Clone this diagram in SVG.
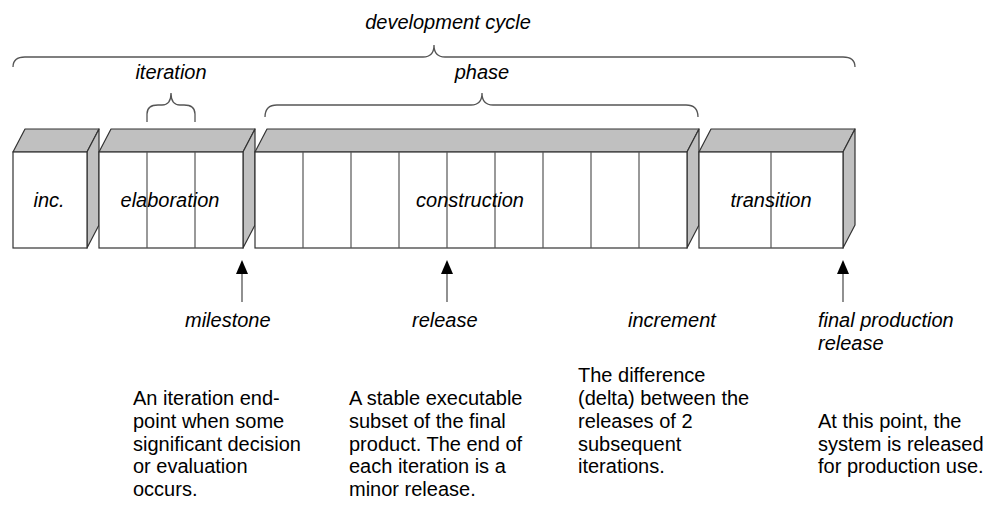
<svg xmlns="http://www.w3.org/2000/svg" width="1003" height="511" viewBox="0 0 1003 511">
<style>
text{font-family:"Liberation Sans",Arial,sans-serif;font-size:20px;fill:#000}
.it{font-style:italic}
.c{text-anchor:middle}
.front{fill:#fff;stroke:#333;stroke-width:1.2}
.shade{fill:#c0c0c0;stroke:#333;stroke-width:1.2;stroke-linejoin:round}
.div{stroke:#555;stroke-width:1.2}
.brace{fill:none;stroke:#555;stroke-width:1.3}
.arr{stroke:#555;stroke-width:1.3}
</style>
<defs>
<marker id="ah" markerWidth="12" markerHeight="14" refX="6" refY="13" orient="0" markerUnits="userSpaceOnUse" overflow="visible">
<path d="M0,14 L6,0 L12,14 Z" fill="#000"/>
</marker>
</defs>
<g id="braces">
<path class="brace" d="M13,67 Q13,57 25,57 L423,57 Q434,57 434,45 Q434,57 445,57 L843,57 Q855,57 855,67"/>
<text class="it c" x="448" y="29">development cycle</text>
<path class="brace" d="M147,122 L147,114 Q147,105 158,105 L162,105 Q171,105 171,93 Q171,105 180,105 L184,105 Q195,105 195,114 L195,122"/>
<text class="it c" x="171" y="79">iteration</text>
<path class="brace" d="M265,117 Q265,105 277,105 L471,105 Q482,105 482,93 Q482,105 493,105 L686,105 Q698,105 698,117"/>
<text class="it c" x="482" y="79">phase</text>
</g>
<g id="inc">
<path class="shade" d="M13,152 L25,129 L99,129 L87,152 Z"/>
<path class="shade" d="M87,152 L99,129 L99,225 L87,248 Z"/>
<rect class="front" x="13" y="152" width="74" height="96"/>
<text class="it c" x="49" y="207">inc.</text>
</g>
<g id="elaboration">
<path class="shade" d="M99,152 L111,129 L255,129 L243,152 Z"/>
<path class="shade" d="M243,152 L255,129 L255,225 L243,248 Z"/>
<rect class="front" x="99" y="152" width="144" height="96"/>
<line class="div" x1="147" y1="152" x2="147" y2="248"/>
<line class="div" x1="195" y1="152" x2="195" y2="248"/>
<text class="it c" x="170" y="207">elaboration</text>
</g>
<g id="construction">
<path class="shade" d="M255,152 L267,129 L699,129 L687,152 Z"/>
<path class="shade" d="M687,152 L699,129 L699,225 L687,248 Z"/>
<rect class="front" x="255" y="152" width="432" height="96"/>
<line class="div" x1="303" y1="152" x2="303" y2="248"/>
<line class="div" x1="351" y1="152" x2="351" y2="248"/>
<line class="div" x1="399" y1="152" x2="399" y2="248"/>
<line class="div" x1="447" y1="152" x2="447" y2="248"/>
<line class="div" x1="495" y1="152" x2="495" y2="248"/>
<line class="div" x1="543" y1="152" x2="543" y2="248"/>
<line class="div" x1="591" y1="152" x2="591" y2="248"/>
<line class="div" x1="639" y1="152" x2="639" y2="248"/>
<text class="it c" x="470" y="207">construction</text>
</g>
<g id="transition">
<path class="shade" d="M699,152 L711,129 L855,129 L843,152 Z"/>
<path class="shade" d="M843,152 L855,129 L855,225 L843,248 Z"/>
<rect class="front" x="699" y="152" width="144" height="96"/>
<line class="div" x1="771" y1="152" x2="771" y2="248"/>
<text class="it c" x="771" y="207">transition</text>
</g>
<g id="connectors">
<line class="arr" x1="242" y1="302" x2="242" y2="273" marker-end="url(#ah)"/>
<line class="arr" x1="447" y1="302" x2="447" y2="273" marker-end="url(#ah)"/>
<line class="arr" x1="843" y1="302" x2="843" y2="273" marker-end="url(#ah)"/>
</g>
<g id="milestone">
<text class="it" x="185" y="327">milestone</text>
<text x="133" y="405">An iteration end-</text>
<text x="133" y="428">point when some</text>
<text x="133" y="451">significant decision</text>
<text x="133" y="473">or evaluation</text>
<text x="133" y="496">occurs.</text>
</g>
<g id="release">
<text class="it" x="412" y="327">release</text>
<text x="349" y="405">A stable executable</text>
<text x="349" y="428">subset of the final</text>
<text x="349" y="451">product. The end of</text>
<text x="349" y="473">each iteration is a</text>
<text x="349" y="496">minor release.</text>
</g>
<g id="increment">
<text class="it" x="628" y="327">increment</text>
<text x="578" y="382">The difference</text>
<text x="578" y="405">(delta) between the</text>
<text x="578" y="428">releases of 2</text>
<text x="578" y="451">subsequent</text>
<text x="578" y="473">iterations.</text>
</g>
<g id="final-release">
<text class="it" x="818" y="327">final production</text>
<text class="it" x="818" y="350">release</text>
<text x="818" y="428">At this point, the</text>
<text x="818" y="451">system is released</text>
<text x="818" y="473">for production use.</text>
</g>
</svg>
